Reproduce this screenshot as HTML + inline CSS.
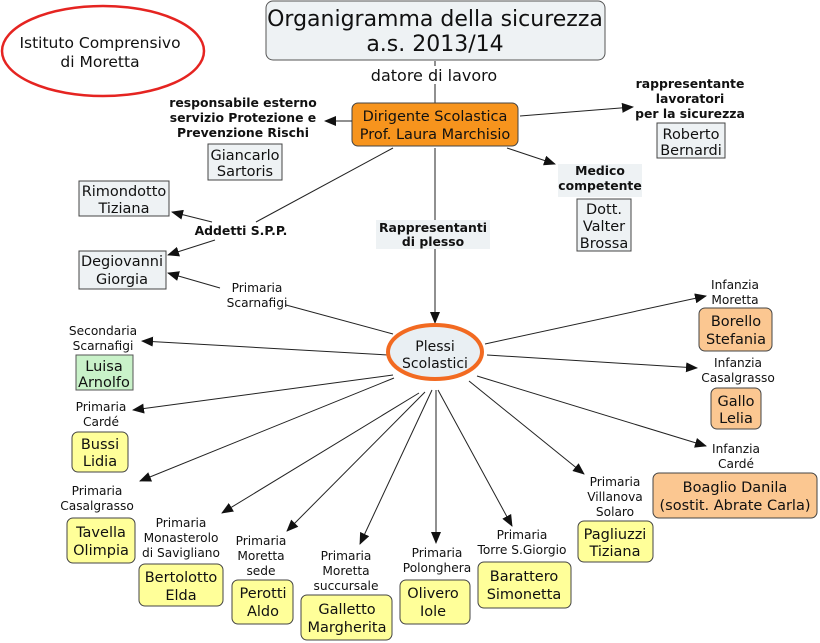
<!DOCTYPE html>
<html><head><meta charset="utf-8"><style>
html,body{margin:0;padding:0;background:#fff;}
svg{display:block;}
text{font-family:"DejaVu Sans","Liberation Sans",sans-serif;fill:#111;text-anchor:middle;}
.lb{font-size:12.2px;}
.nm{font-size:14.5px;}
.b{font-weight:bold;font-size:12.4px;}
line{stroke:#222;stroke-width:1;}
</style></head><body>
<svg width="820" height="643" viewBox="0 0 820 643" xmlns="http://www.w3.org/2000/svg">
<defs>
<marker id="a" markerWidth="12" markerHeight="10" refX="11" refY="5" orient="auto" markerUnits="userSpaceOnUse">
<path d="M0,0 L12,5 L0,10 z" fill="#111"/></marker>
</defs>

<!-- Istituto ellipse -->
<ellipse cx="103" cy="51" rx="101" ry="45" fill="#fff" stroke="#e52421" stroke-width="2.5"/>
<text x="100" y="48" style="font-size:15.5px">Istituto Comprensivo</text>
<text x="100" y="67" style="font-size:15.5px">di Moretta</text>

<!-- Title -->
<rect x="266" y="1" width="339" height="59" rx="7" fill="#eef2f4" stroke="#555" stroke-width="1"/>
<text x="435" y="26" style="font-size:22px">Organigramma della sicurezza</text>
<text x="435" y="51" style="font-size:22px">a.s. 2013/14</text>
<line x1="435" y1="61" x2="435" y2="103"/>
<rect x="366" y="66" width="138" height="18" fill="#fff"/>
<text x="434" y="81" style="font-size:16px">datore di lavoro</text>

<!-- Dirigente -->
<rect x="352" y="103" width="166" height="43" rx="6" fill="#f7941d" stroke="#444"/>
<text x="435" y="121" class="nm">Dirigente Scolastica</text>
<text x="435" y="139" class="nm">Prof. Laura Marchisio</text>

<!-- responsabile -->
<line x1="352" y1="121" x2="325" y2="121" marker-end="url(#a)"/>
<text x="243" y="107" class="b">responsabile esterno</text>
<text x="243" y="122" class="b">servizio Protezione e</text>
<text x="243" y="137" class="b">Prevenzione Rischi</text>
<rect x="208" y="144" width="74" height="36" fill="#eef2f4" stroke="#444"/>
<text x="245" y="160" class="nm">Giancarlo</text>
<text x="245" y="176" class="nm">Sartoris</text>

<!-- rappresentante lavoratori -->
<line x1="520" y1="116" x2="633" y2="107" marker-end="url(#a)"/>
<text x="690" y="88" class="b">rappresentante</text>
<text x="690" y="103" class="b">lavoratori</text>
<text x="690" y="118" class="b">per la sicurezza</text>
<rect x="657" y="123" width="68" height="35" fill="#eef2f4" stroke="#444"/>
<text x="691" y="139" class="nm">Roberto</text>
<text x="691" y="155" class="nm">Bernardi</text>

<!-- Medico -->
<line x1="507" y1="148" x2="555" y2="164" marker-end="url(#a)"/>
<rect x="558" y="164" width="84" height="33" fill="#eef2f4"/>
<text x="600" y="175" class="b">Medico</text>
<text x="600" y="190" class="b">competente</text>
<rect x="577" y="199" width="54" height="52" fill="#eef2f4" stroke="#444"/>
<text x="604" y="214" class="nm">Dott.</text>
<text x="604" y="231" class="nm">Valter</text>
<text x="604" y="248" class="nm">Brossa</text>

<!-- Addetti -->
<line x1="393" y1="148" x2="256" y2="222"/>
<text x="241" y="235" class="b">Addetti S.P.P.</text>
<line x1="212" y1="222" x2="172" y2="212" marker-end="url(#a)"/>
<line x1="215" y1="240" x2="168" y2="255" marker-end="url(#a)"/>
<rect x="79" y="181" width="90" height="35" fill="#eef2f4" stroke="#444"/>
<text x="124" y="196" class="nm">Rimondotto</text>
<text x="124" y="213" class="nm">Tiziana</text>
<rect x="79" y="251" width="87" height="38" fill="#eef2f4" stroke="#444"/>
<text x="122" y="266" class="nm">Degiovanni</text>
<text x="122" y="284" class="nm">Giorgia</text>

<!-- Primaria Scarnafigi -->
<text x="257" y="292" class="lb">Primaria</text>
<text x="257" y="307" class="lb">Scarnafigi</text>
<line x1="220" y1="288" x2="168" y2="273" marker-end="url(#a)"/>
<line x1="286" y1="305" x2="393" y2="334"/>

<!-- Rappresentanti di plesso -->
<line x1="435" y1="148" x2="435" y2="220"/>
<rect x="376" y="220" width="114" height="29" fill="#eef2f4"/>
<text x="433" y="232" class="b">Rappresentanti</text>
<text x="433" y="246" class="b">di plesso</text>
<line x1="435" y1="249" x2="435" y2="323" marker-end="url(#a)"/>

<!-- spokes -->
<line x1="388" y1="355" x2="142" y2="341" marker-end="url(#a)"/>
<line x1="393" y1="375" x2="133" y2="410" marker-end="url(#a)"/>
<line x1="394" y1="378" x2="140" y2="481" marker-end="url(#a)"/>
<line x1="419" y1="393" x2="222" y2="513" marker-end="url(#a)"/>
<line x1="425" y1="392" x2="287" y2="531" marker-end="url(#a)"/>
<line x1="432" y1="390" x2="360" y2="544" marker-end="url(#a)"/>
<line x1="436" y1="390" x2="436" y2="543" marker-end="url(#a)"/>
<line x1="438" y1="390" x2="512" y2="526" marker-end="url(#a)"/>
<line x1="469" y1="381" x2="584" y2="474" marker-end="url(#a)"/>
<line x1="477" y1="376" x2="706" y2="446" marker-end="url(#a)"/>
<line x1="487" y1="355" x2="697" y2="368" marker-end="url(#a)"/>
<line x1="485" y1="344" x2="706" y2="296" marker-end="url(#a)"/>

<!-- Plessi -->
<ellipse cx="435" cy="352" rx="47" ry="27" fill="#e9eff3" stroke="#f26a21" stroke-width="4"/>
<text x="435" y="351" style="font-size:14px">Plessi</text>
<text x="435" y="368" style="font-size:14px">Scolastici</text>

<!-- Secondaria -->
<text x="103" y="335" class="lb">Secondaria</text>
<text x="103" y="350" class="lb">Scarnafigi</text>
<rect x="76" y="355" width="57" height="35" fill="#c9f2c9" stroke="#555"/>
<text x="104" y="371" class="nm">Luisa</text>
<text x="104" y="387" class="nm">Arnolfo</text>

<!-- Cardé -->
<text x="101" y="411" class="lb">Primaria</text>
<text x="101" y="426" class="lb">Cardé</text>
<rect x="72" y="432" width="56" height="40" rx="6" fill="#ffff99" stroke="#444"/>
<text x="100" y="449" class="nm">Bussi</text>
<text x="100" y="466" class="nm">Lidia</text>

<!-- Casalgrasso -->
<text x="97" y="495" class="lb">Primaria</text>
<text x="97" y="510" class="lb">Casalgrasso</text>
<rect x="67" y="518" width="68" height="45" rx="6" fill="#ffff99" stroke="#444"/>
<text x="101" y="537" class="nm">Tavella</text>
<text x="101" y="555" class="nm">Olimpia</text>

<!-- Monasterolo -->
<text x="181" y="527" class="lb">Primaria</text>
<text x="181" y="542" class="lb">Monasterolo</text>
<text x="181" y="557" class="lb">di Savigliano</text>
<rect x="139" y="564" width="84" height="42" rx="6" fill="#ffff99" stroke="#444"/>
<text x="181" y="582" class="nm">Bertolotto</text>
<text x="181" y="600" class="nm">Elda</text>

<!-- Moretta sede -->
<text x="261" y="545" class="lb">Primaria</text>
<text x="261" y="560" class="lb">Moretta</text>
<text x="261" y="575" class="lb">sede</text>
<rect x="232" y="580" width="61" height="44" rx="6" fill="#ffff99" stroke="#444"/>
<text x="263" y="598" class="nm">Perotti</text>
<text x="263" y="616" class="nm">Aldo</text>

<!-- Moretta succursale -->
<text x="346" y="560" class="lb">Primaria</text>
<text x="346" y="575" class="lb">Moretta</text>
<text x="346" y="590" class="lb">succursale</text>
<rect x="301" y="595" width="91" height="45" rx="6" fill="#ffff99" stroke="#444"/>
<text x="347" y="614" class="nm">Galletto</text>
<text x="347" y="632" class="nm">Margherita</text>

<!-- Polonghera -->
<text x="437" y="557" class="lb">Primaria</text>
<text x="437" y="572" class="lb">Polonghera</text>
<rect x="400" y="580" width="70" height="44" rx="6" fill="#ffff99" stroke="#444"/>
<text x="433" y="598" class="nm">Olivero</text>
<text x="433" y="616" class="nm">Iole</text>

<!-- Torre -->
<text x="522" y="539" class="lb">Primaria</text>
<text x="522" y="554" class="lb">Torre S.Giorgio</text>
<rect x="478" y="562" width="93" height="46" rx="6" fill="#ffff99" stroke="#444"/>
<text x="524" y="581" class="nm">Barattero</text>
<text x="524" y="599" class="nm">Simonetta</text>

<!-- Villanova -->
<text x="615" y="486" class="lb">Primaria</text>
<text x="615" y="501" class="lb">Villanova</text>
<text x="615" y="516" class="lb">Solaro</text>
<rect x="578" y="521" width="75" height="41" rx="6" fill="#ffff99" stroke="#444"/>
<text x="615" y="539" class="nm">Pagliuzzi</text>
<text x="615" y="556" class="nm">Tiziana</text>

<!-- Infanzia Moretta -->
<text x="735" y="289" class="lb">Infanzia</text>
<text x="735" y="304" class="lb">Moretta</text>
<rect x="699" y="308" width="73" height="43" rx="6" fill="#fbc791" stroke="#444"/>
<text x="736" y="326" class="nm">Borello</text>
<text x="736" y="344" class="nm">Stefania</text>

<!-- Infanzia Casalgrasso -->
<text x="738" y="367" class="lb">Infanzia</text>
<text x="738" y="382" class="lb">Casalgrasso</text>
<rect x="711" y="388" width="50" height="41" rx="6" fill="#fbc791" stroke="#444"/>
<text x="736" y="406" class="nm">Gallo</text>
<text x="736" y="423" class="nm">Lelia</text>

<!-- Infanzia Cardé -->
<text x="736" y="453" class="lb">Infanzia</text>
<text x="736" y="468" class="lb">Cardé</text>
<rect x="653" y="473" width="164" height="45" rx="6" fill="#fbc791" stroke="#444"/>
<text x="735" y="492" class="nm">Boaglio Danila</text>
<text x="735" y="510" class="nm">(sostit. Abrate Carla)</text>
</svg>
</body></html>
